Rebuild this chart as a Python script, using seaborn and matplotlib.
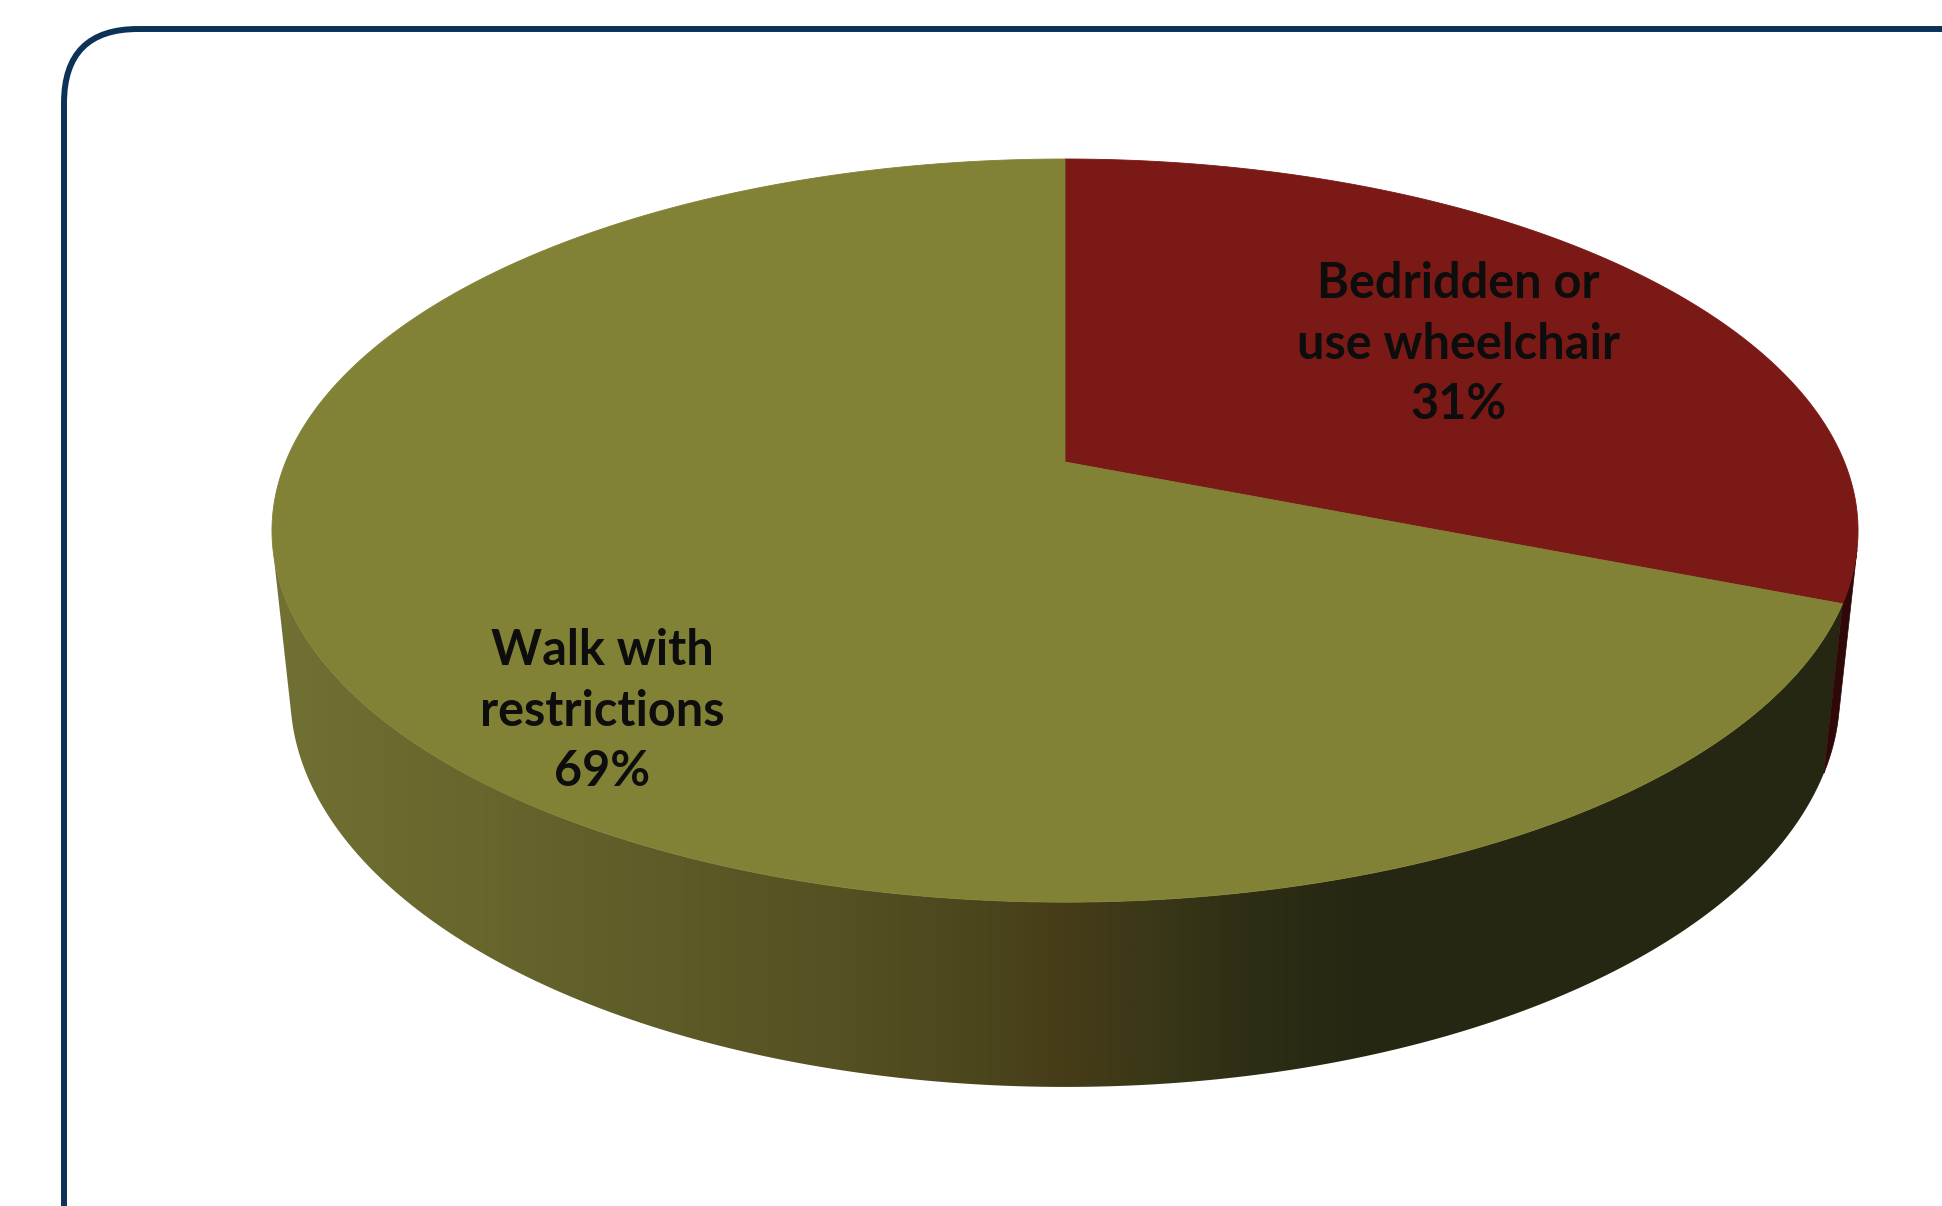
import numpy as np
import matplotlib
matplotlib.use("Agg")
import matplotlib.pyplot as plt
import seaborn as sns
from matplotlib.patches import Polygon, FancyBboxPatch

# ---------------- data ----------------
categories = ["Bedridden or\nuse wheelchair", "Walk with\nrestrictions"]
values = [31, 69]
pct_labels = ["31%", "69%"]
top_colors = ["#7B1916", "#828236"]
wall_colors = ["#2E0907", None]  # None -> shaded gradient

# ---------------- style ----------------
sns.set_theme(style="white")
plt.rcParams['font.family'] = ['Lato', 'DejaVu Sans']

W, HPX = 1942, 1206
fig = plt.figure(figsize=(W / 100, HPX / 100), dpi=100)
ax = fig.add_axes([0, 0, 1, 1])
ax.set_xlim(0, W)
ax.set_ylim(HPX, 0)
ax.axis('off')

# perspective camera for the 3D pie
CX, CY = 1065, 462
F = 3749.0
LD = 4.81
SPH = 0.4605
CPH = np.sqrt(1 - SPH ** 2)
DEPTH = 0.2384


def proj(x, y, z):
    den = y * CPH + LD - z * SPH
    return CX + F * x / den, CY - F * (y * SPH + z * CPH) / den


def arc(t0, t1, z=0.0, r=1.0, n=300):
    t = np.radians(np.linspace(t0, t1, n))
    X, Y = proj(r * np.cos(t), r * np.sin(t), z)
    return np.column_stack([X, Y])


fr = np.array(values, float) / np.sum(values)
bounds = 90 - 360 * np.concatenate([[0], np.cumsum(fr)])

# visible wall range
th_hi = np.degrees(np.arcsin(-1 / (LD * CPH)))
th_lo = -180 - th_hi

# gradient for shaded wall
anchors_x = [270, 450, 650, 850, 1000, 1065, 1150, 1250, 1350, 1870]
anchors_c = [(113, 113, 52), (104, 104, 46), (94, 92, 40), (84, 80, 34),
             (74, 68, 28), (70, 60, 24), (58, 56, 24), (46, 46, 21),
             (39, 40, 19), (37, 39, 18)]
xs = np.arange(W)
grad = np.stack([np.interp(xs, anchors_x, [c[k] for c in anchors_c]) for k in range(3)], axis=-1) / 255.0
grad_img = grad[np.newaxis, :, :]

for i in range(len(values)):
    a_hi, a_lo = bounds[i], bounds[i + 1]
    lo, hi = max(a_lo, th_lo), min(a_hi, th_hi)
    if lo < hi:
        top = arc(hi, lo, z=0.0)
        bot = arc(lo, hi, z=-DEPTH)
        pts = np.vstack([top, bot])
        if wall_colors[i] is None:
            poly = Polygon(pts, closed=True, facecolor='none', edgecolor='none')
            ax.add_patch(poly)
            im = ax.imshow(grad_img, extent=[0, W, HPX, 0], aspect='auto', zorder=1,
                           interpolation='bilinear')
            im.set_clip_path(poly)
        else:
            ax.add_patch(Polygon(pts, closed=True, facecolor=wall_colors[i],
                                 edgecolor=wall_colors[i], lw=0.5, zorder=1.5))

for i in range(len(values)):
    a_hi, a_lo = bounds[i], bounds[i + 1]
    pts = np.vstack([[proj(0, 0, 0)], arc(a_hi, a_lo, z=0.0)])
    ax.add_patch(Polygon(pts, closed=True, facecolor=top_colors[i],
                         edgecolor=top_colors[i], lw=0.6, zorder=2))

# labels (polar position on the top face: angle, radius)
label_pos = [(33.0, 0.64), (-130.5, 0.81)]
for i, (cat, pct) in enumerate(zip(categories, pct_labels)):
    t, r = label_pos[i]
    tx, ty = proj(r * np.cos(np.radians(t)), r * np.sin(np.radians(t)), 0)
    ax.text(tx, ty, f"{cat}\n{pct}", ha='center', va='center', fontsize=35,
            fontweight='bold', color='#0D0D0D', linespacing=1.42, zorder=3)

# rounded frame (cropped at right/bottom)
frame = FancyBboxPatch((64, 29), 2100, 1300, boxstyle="round,pad=0,rounding_size=74",
                       facecolor='none', edgecolor='#0C3257', lw=4.3, zorder=4)
ax.add_patch(frame)

fig.savefig("out.png", dpi=100, facecolor='white')
